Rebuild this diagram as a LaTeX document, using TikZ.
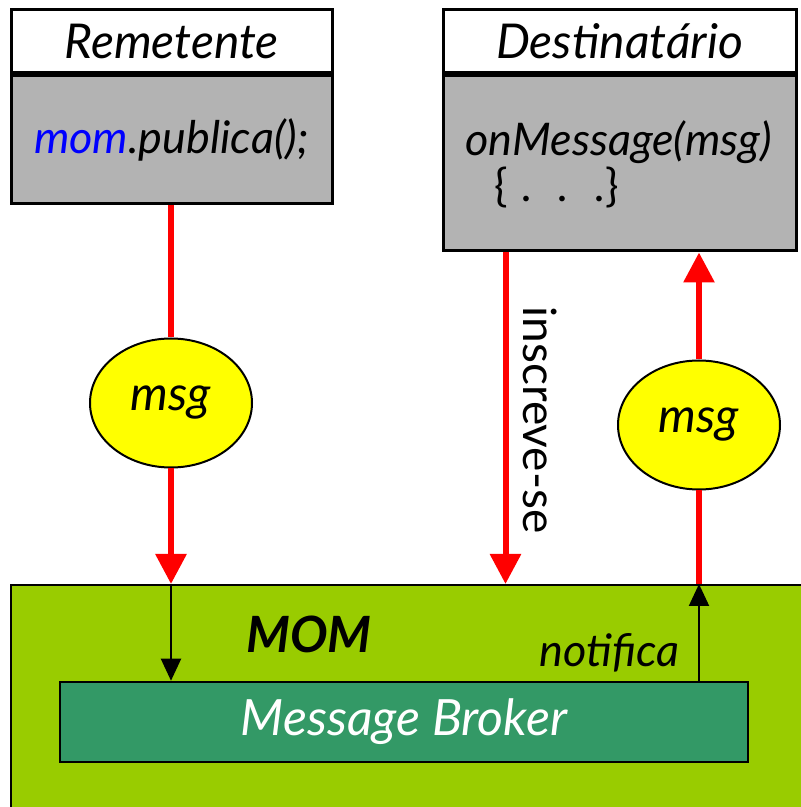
\documentclass[tikz,border=0pt]{standalone}
\usepackage{fontspec}
\setmainfont{Lato}
\usetikzlibrary{arrows.meta,positioning,shapes.geometric,calc}

\definecolor{cinza}{HTML}{B3B3B3}
\definecolor{verdemom}{HTML}{99CC00}
\definecolor{verdebroker}{HTML}{339966}
\definecolor{amarelo}{HTML}{FFFF00}

\tikzset{
  txt/.style={font=\fontsize{48}{52}\selectfont\itshape},
  codigo/.style={font=\fontsize{45}{48}\selectfont\itshape},
  caixa/.style={draw=black, line width=3pt, inner sep=0pt},
  cabeca/.style={caixa, fill=white, minimum height=63pt, txt},
  corpo/.style={caixa, fill=cinza, codigo},
  msgbola/.style={ellipse, draw=black, line width=2pt, fill=amarelo, minimum width=162pt, minimum height=129pt, inner sep=0pt, txt},
  fluxo/.style={red, line width=6pt},
  fluxoseta/.style={fluxo, -{Triangle[width=30pt,length=30pt]}},
  aviso/.style={black, line width=2pt, -{Triangle[width=20pt,length=22pt]}},
}

\begin{document}
\begin{tikzpicture}[x=1pt,y=1pt]
\useasboundingbox (0,0) rectangle (801,807);

% clientes
\node[cabeca, minimum width=321pt] (rem) at (171.5,765.5) {Remetente};
\node[corpo, minimum width=321pt, minimum height=128pt, below=0pt of rem] (remcode) {\textcolor{blue}{mom}.publica();};
\node[cabeca, minimum width=353pt] (dest) at (619.5,765.5) {Destinatário};
\node[corpo, minimum width=353pt, minimum height=175pt, below=0pt of dest] (destcode) {};
\node[codigo, align=left, anchor=west] (metodo) at (462,643) {onMessage(msg)\\[-2pt]\hspace*{29pt}{\upshape\{}\hspace{14pt}.\hspace{26pt}.\hspace{26pt}.{\upshape\}}};

% MOM e broker
\node[draw=black, line width=2pt, fill=verdemom, minimum width=809pt, minimum height=242pt, inner sep=0pt] (mom) at (415.5,101) {};
\node[draw=black, line width=2.5pt, fill=verdebroker, minimum width=688pt, minimum height=80pt, inner sep=0pt, font=\fontsize{50}{54}\selectfont\itshape, text=white] (broker) at (404,85) {Message Broker};
\node[font=\fontsize{50}{54}\selectfont\bfseries\itshape, anchor=base] (momtit) at (309,154) {MOM};
\node[codigo, anchor=base east] (notif) at (683,140) {notifica};

% mensagens
\node[msgbola] (msgA) at (171,404) {msg};
\node[msgbola] (msgB) at (699,382) {msg};

\draw[fluxo] (remcode.south -| msgA.north) -- (msgA.north);
\draw[fluxoseta] (msgA.south) -- (msgA.south |- mom.north);
\draw[aviso] (msgA.south |- mom.north) -- (msgA.south |- broker.north);

\coordinate (insc) at ([xshift=64pt]destcode.south west);
\draw[fluxoseta] (insc) -- (insc |- mom.north);
\node[font=\fontsize{46}{50}\selectfont, rotate=-90] (insctxt) at (540,387) {inscreve-se};

\draw[fluxo] (msgB.south |- mom.north) -- (msgB.south);
\draw[fluxoseta] (msgB.north) -- (msgB.north |- destcode.south);
\draw[aviso] (msgB.south |- broker.north) -- (msgB.south |- mom.north);
\end{tikzpicture}
\end{document}
